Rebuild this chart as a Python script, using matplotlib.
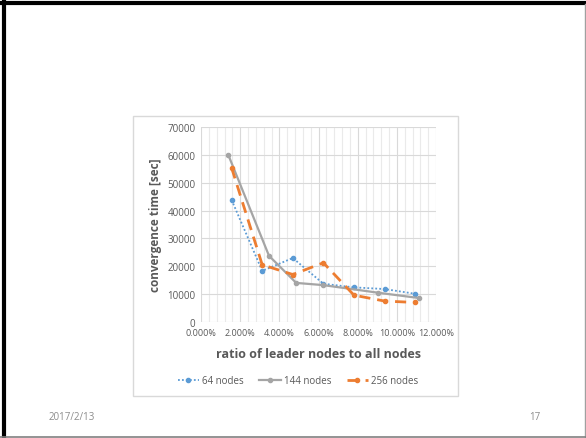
import matplotlib
matplotlib.use("Agg")
import matplotlib.pyplot as plt
from matplotlib.patches import Rectangle
from matplotlib.lines import Line2D
from matplotlib.ticker import MultipleLocator, FuncFormatter

# Data
x_64 = [1.5625, 3.125, 4.6875, 6.25, 7.8125, 9.375, 10.9375]
y_64 = [43800, 18400, 23000, 13800, 12500, 11900, 10200]
x_144 = [1.389, 3.472, 4.861, 6.25, 9.028, 11.111]
y_144 = [60000, 23800, 14100, 13300, 10600, 8700]
x_256 = [1.5625, 3.125, 4.6875, 6.25, 7.8125, 9.375, 10.9375]
y_256 = [55300, 20600, 17100, 21300, 9700, 7600, 7100]
series_names = ["64 nodes", "144 nodes", "256 nodes"]

W, H = 586, 439
fig = plt.figure(figsize=(W / 100, H / 100), dpi=100)
fig.patch.set_facecolor("white")

font = "Open Sans"
txt = "#595959"

# slide frame
fig.add_artist(Line2D([3.5 / W, 3.5 / W], [0, 1], color="black", lw=3, transform=fig.transFigure))
fig.add_artist(Line2D([0, 1], [1 - 3.5 / H, 1 - 3.5 / H], color="black", lw=3, transform=fig.transFigure))
fig.add_artist(Line2D([584.5 / W, 584.5 / W], [0, 1 - 5 / H], color="#A0A0A0", lw=1.0, transform=fig.transFigure))
fig.add_artist(Line2D([0, 1], [1.5 / H, 1.5 / H], color="#808080", lw=1.2, transform=fig.transFigure))

# chart area box
fig.add_artist(Rectangle((133 / W, 1 - 397 / H), (458 - 133) / W, (397 - 117) / H,
                         transform=fig.transFigure, fill=False, edgecolor="#D9D9D9", lw=1))

ax = fig.add_axes([201 / W, (H - 323.3) / H, 235 / W, 195.6 / H])
ax.set_xlim(0, 12)
ax.set_ylim(0, 70000)
ax.xaxis.set_major_locator(MultipleLocator(2))
ax.xaxis.set_minor_locator(MultipleLocator(0.4))
ax.yaxis.set_major_locator(MultipleLocator(10000))
ax.xaxis.set_major_formatter(FuncFormatter(lambda v, p: f"{v:.3f}%"))
ax.grid(True, which="major", axis="both", color="#D9D9D9", lw=0.8)
ax.grid(True, which="minor", axis="x", color="#EAEAEA", lw=0.8)
ax.set_axisbelow(True)
for s in ax.spines.values():
    s.set_visible(False)
ax.tick_params(which="both", length=0, labelsize=6.5, labelcolor=txt, pad=4)
ax.tick_params(axis="y", labelsize=7)
for lab in ax.get_xticklabels() + ax.get_yticklabels():
    lab.set_family(font)

ax.plot(x_64, y_64, color="#5B9BD5", lw=1.3, ls=(0, (1, 1.2)), marker="o", ms=3, label=series_names[0])
ax.plot(x_144, y_144, color="#A5A5A5", lw=1.6, ls="-", marker="o", ms=3, label=series_names[1])
ax.plot(x_256, y_256, color="#ED7D31", lw=2.0, ls=(0, (4, 2.5)), marker="o", ms=3, label=series_names[2])

ax.set_xlabel("ratio of leader nodes to all nodes", fontsize=9, fontweight="bold", color=txt,
              family=font, labelpad=7)
ax.set_ylabel("convergence time [sec]", fontsize=8.5, fontweight="bold", color=txt,
              family=font, labelpad=4)

leg = fig.legend(loc="center", bbox_to_anchor=(298 / W, 1 - 382 / H), ncol=3, frameon=False,
                 prop={"family": font, "size": 7}, handlelength=2.2, columnspacing=1.6,
                 handletextpad=0.3)
for t in leg.get_texts():
    t.set_color(txt)

fig.text(49 / W, 1 - 418 / H, "2017/2/13", fontsize=7, color="#8C8C8C", family=font, va="center")
fig.text(540 / W, 1 - 418 / H, "17", fontsize=7, color="#8C8C8C", family=font, va="center", ha="right")

fig.savefig("out.png", dpi=100, facecolor="white")
